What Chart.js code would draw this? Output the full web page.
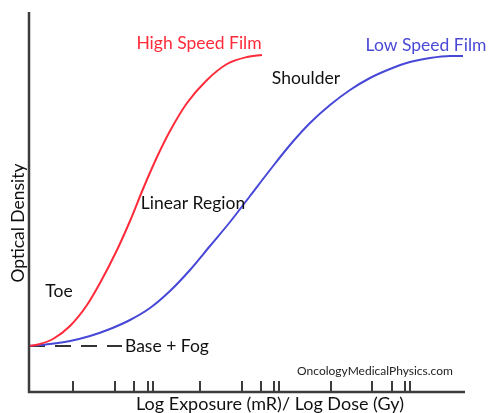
<!DOCTYPE html>
<html>
<head>
<meta charset="utf-8">
<script src="https://cdn.jsdelivr.net/npm/chart.js@4/dist/chart.umd.min.js"></script>
<style>
  html, body { margin: 0; padding: 0; background: #fff; }
  #wrap { width: 488px; height: 413px; }
</style>
</head>
<body>
<div id="wrap"><canvas id="c" width="488" height="413"></canvas></div>
<script>
// Characteristic (H&D) curves: optical density vs log exposure
const highSpeedLogE = [0, 0.11, 0.24, 0.41, 0.58, 0.71, 0.88, 1.01, 1.14, 1.28, 1.41, 1.58, 1.78, 1.98, 2.18, 2.33];
const highSpeedOD   = [0.46, 0.48, 0.53, 0.66, 0.87, 1.09, 1.42, 1.71, 2.03, 2.35, 2.61, 2.89, 3.12, 3.28, 3.35, 3.37];

const lowSpeedLogE  = [0, 0.21, 0.41, 0.61, 0.81, 1.01, 1.21, 1.41, 1.61, 1.81, 2.01, 2.21, 2.41, 2.61, 2.81, 3.01, 3.21, 3.41, 3.61, 3.81, 4.01, 4.21, 4.34];
const lowSpeedOD    = [0.46, 0.48, 0.51, 0.56, 0.63, 0.72, 0.84, 1.01, 1.22, 1.46, 1.70, 1.96, 2.22, 2.47, 2.69, 2.87, 3.02, 3.14, 3.23, 3.30, 3.34, 3.36, 3.36];

// base + fog level and the extent of its dashed marker
const baseFogOD = 0.46;
const baseFogLogE = [0, 0.93];

// hand-placed tick marks along the log exposure axis
const exposureTicks = [0.44, 0.86, 1.05, 1.19, 1.24, 1.71, 2.13, 2.32, 2.45, 2.50, 3.02, 3.43, 3.63, 3.76, 3.81];

// curve annotations, anchored in data units
const noteText = ['High Speed Film', 'Low Speed Film', 'Shoulder', 'Linear Region', 'Toe', 'Base + Fog'];
const noteLogE = [1.70, 3.97, 2.77, 1.64, 0.30, 0.96];
const noteOD   = [3.49, 3.47, 3.14, 1.89, 1.01, 0.46];
const noteColor = ['#ff2b3a', '#4a4ad6', '#111', '#111', '#111', '#111'];
const noteAlign = ['center', 'center', 'center', 'center', 'center', 'left'];

const xTitle = 'Log Exposure (mR)/ Log Dose (Gy)';
const yTitle = 'Optical Density';
const credit = 'OncologyMedicalPhysics.com';

const FONT = 'Lato, "Open Sans", sans-serif';

const toPts = (xs, ys) => xs.map((x, i) => ({ x: x, y: ys[i] }));

const decor = {
  id: 'decor',
  afterDatasetsDraw(chart) {
    const ctx = chart.ctx;
    const xs = chart.scales.x, ys = chart.scales.y;
    const x0 = xs.getPixelForValue(xs.min);
    const x1 = xs.getPixelForValue(xs.max);
    const yb = ys.getPixelForValue(ys.min);
    const yt = ys.getPixelForValue(ys.max);
    ctx.save();
    // axes
    ctx.strokeStyle = '#3c3c3c';
    ctx.lineWidth = 2.5;
    ctx.beginPath();
    ctx.moveTo(x0, yt);
    ctx.lineTo(x0, yb);
    ctx.lineTo(x1, yb);
    ctx.stroke();
    // tick marks pointing inward
    ctx.lineWidth = 2;
    ctx.beginPath();
    exposureTicks.forEach(v => {
      const px = Math.round(xs.getPixelForValue(v));
      ctx.moveTo(px, yb);
      ctx.lineTo(px, yb - 11);
    });
    ctx.stroke();
    // annotations
    ctx.textBaseline = 'middle';
    ctx.font = '17.5px ' + FONT;
    noteText.forEach((t, i) => {
      ctx.fillStyle = noteColor[i];
      ctx.textAlign = noteAlign[i];
      ctx.fillText(t, xs.getPixelForValue(noteLogE[i]), ys.getPixelForValue(noteOD[i]));
    });
    // credit line
    ctx.font = '12px ' + FONT;
    ctx.fillStyle = '#222';
    ctx.textAlign = 'center';
    ctx.fillText(credit, 375, 371);
    // axis titles
    ctx.font = '18px ' + FONT;
    ctx.fillStyle = '#111';
    ctx.textAlign = 'center';
    ctx.fillText(xTitle, 270, yb + 12);
    ctx.font = '17.5px ' + FONT;
    ctx.translate(18, 223);
    ctx.rotate(-Math.PI / 2);
    ctx.fillText(yTitle, 0, 0);
    ctx.restore();
  }
};

new Chart(document.getElementById('c'), {
  type: 'line',
  data: {
    datasets: [
      {
        label: 'High Speed Film',
        data: toPts(highSpeedLogE, highSpeedOD),
        borderColor: '#ff2b3a',
        borderWidth: 2,
        pointRadius: 0,
        cubicInterpolationMode: 'monotone',
        fill: false
      },
      {
        label: 'Low Speed Film',
        data: toPts(lowSpeedLogE, lowSpeedOD),
        borderColor: '#4848d8',
        borderWidth: 2,
        pointRadius: 0,
        cubicInterpolationMode: 'monotone',
        fill: false
      },
      {
        label: 'Base + Fog',
        data: toPts(baseFogLogE, [baseFogOD, baseFogOD]),
        borderColor: '#333',
        borderWidth: 2,
        borderDash: [16, 10],
        pointRadius: 0,
        fill: false
      }
    ]
  },
  options: {
    responsive: false,
    animation: false,
    layout: { padding: { left: 29, right: 23, top: 12, bottom: 21 } },
    plugins: { legend: { display: false }, tooltip: { enabled: false }, title: { display: false } },
    scales: {
      x: { type: 'linear', min: 0, max: 4.36, display: false },
      y: { type: 'linear', min: 0, max: 3.8, display: false }
    }
  },
  plugins: [decor]
});
</script>
</body>
</html>
